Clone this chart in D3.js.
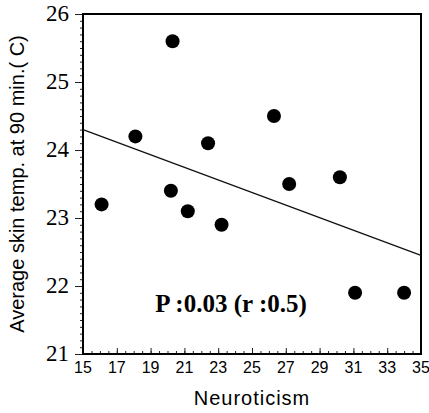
<!DOCTYPE html>
<html>
<head>
<meta charset="utf-8">
<script src="https://cdn.jsdelivr.net/npm/d3@7"></script>
<style>
  body { margin: 0; background: #fff; }
</style>
</head>
<body>
<script>
// data
let neuroticism = [16.1, 18.1, 20.3, 20.2, 21.2, 22.4, 23.2, 26.3, 27.2, 30.2, 31.1, 34.0]
let skinTemp = [23.2, 24.2, 25.6, 23.4, 23.1, 24.1, 22.9, 24.5, 23.5, 23.6, 21.9, 21.9]
let fitX = [15, 35]
let fitY = [24.3, 22.45]
let xTicks = [15, 17, 19, 21, 23, 25, 27, 29, 31, 33, 35]
let yTicks = [21, 22, 23, 24, 25, 26]

{
    let width = 429
    let height = 413
    let svg = d3.select('body').append('svg')
        .attr('width', width)
        .attr('height', height)

    let x = d3.scaleLinear().domain([15, 35]).range([83, 421])
    let y = d3.scaleLinear().domain([21, 26]).range([354, 14])

    // minor ticks
    let xAxis = d3.axisTop(x).tickValues(d3.range(15, 35.01, 0.5)).tickSize(3).tickFormat('')
    svg.append('g').attr('transform', `translate(0,${y(21)})`).call(xAxis)
    let yAxis = d3.axisLeft(y).tickValues(d3.range(21, 26.01, 0.1)).tickSize(3).tickFormat('')
    svg.append('g').attr('transform', `translate(${x(15)},0)`).call(yAxis)
    // major ticks
    svg.append('g').attr('transform', `translate(0,${y(21)})`)
        .call(d3.axisTop(x).tickValues(xTicks).tickSize(6).tickFormat(''))
    svg.append('g').attr('transform', `translate(${x(15)},0)`)
        .call(d3.axisLeft(y).tickValues(yTicks).tickSize(8).tickFormat(''))
    svg.selectAll('.domain').remove()
    svg.selectAll('.tick line').attr('stroke', '#222').attr('stroke-width', 1)

    // frame
    svg.append('rect')
        .attr('x', x(15)).attr('y', y(26))
        .attr('width', x(35) - x(15)).attr('height', y(21) - y(26))
        .attr('fill', 'none').attr('stroke', '#000').attr('stroke-width', 2)

    // tick labels
    svg.append('g').selectAll('text').data(xTicks)
        .enter().append('text')
        .attr('x', d => x(d))
        .attr('y', y(21) + 19)
        .attr('text-anchor', 'middle')
        .attr('font-family', 'Liberation Sans, Arial, sans-serif')
        .attr('font-size', 16)
        .text(d => d)
    svg.append('g').selectAll('text').data(yTicks)
        .enter().append('text')
        .attr('x', x(15) - 14)
        .attr('y', d => y(d) + 7)
        .attr('text-anchor', 'end')
        .attr('font-family', 'Liberation Serif, Times New Roman, serif')
        .attr('font-size', 23)
        .text(d => d)

    // fit line
    let line = d3.line().x(d => x(d[0])).y(d => y(d[1]))
    svg.append('path')
        .attr('d', line(d3.zip(fitX, fitY)))
        .attr('stroke', '#111')
        .attr('stroke-width', 1.3)
        .attr('fill', 'none')

    // points
    svg.append('g').selectAll('circle').data(d3.zip(neuroticism, skinTemp))
        .enter().append('circle')
        .attr('cx', d => x(d[0]))
        .attr('cy', d => y(d[1]))
        .attr('r', 7)
        .attr('fill', '#000')

    // annotation
    svg.append('text')
        .attr('x', 231).attr('y', 312)
        .attr('text-anchor', 'middle')
        .attr('font-family', 'Liberation Serif, Times New Roman, serif')
        .attr('font-weight', 'bold')
        .attr('font-size', 25)
        .text('P :0.03 (r :0.5)')

    // axis titles
    svg.append('text')
        .attr('x', 252).attr('y', 405)
        .attr('text-anchor', 'middle')
        .attr('font-family', 'Liberation Sans, Arial, sans-serif')
        .attr('font-size', 20)
        .attr('letter-spacing', 1)
        .text('Neuroticism')
    svg.append('text')
        .attr('transform', `translate(24,${(y(21) + y(26)) / 2}) rotate(-90)`)
        .attr('text-anchor', 'middle')
        .attr('font-family', 'Liberation Sans, Arial, sans-serif')
        .attr('font-size', 20)
        .text('Average skin temp. at 90 min.( C)')
}
</script>
</body>
</html>
